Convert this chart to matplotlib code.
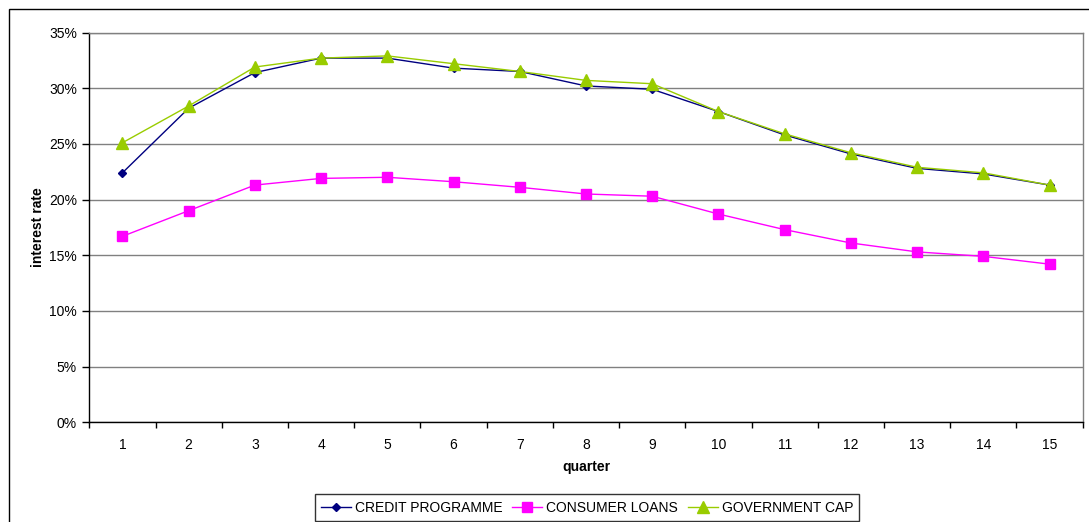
import matplotlib
matplotlib.use("Agg")
import matplotlib.pyplot as plt
from matplotlib.patches import Rectangle
from matplotlib.ticker import FixedLocator, FuncFormatter, NullFormatter

plt.rcParams['font.family'] = ['Liberation Sans', 'DejaVu Sans']

quarters = list(range(1, 16))
credit_programme = [22.4, 28.2, 31.4, 32.7, 32.7, 31.8, 31.5, 30.2, 29.9, 27.9, 25.8, 24.1, 22.8, 22.3, 21.3]
consumer_loans = [16.7, 19.0, 21.3, 21.9, 22.0, 21.6, 21.1, 20.5, 20.3, 18.7, 17.3, 16.1, 15.3, 14.9, 14.2]
government_cap = [25.1, 28.4, 31.9, 32.7, 32.9, 32.2, 31.5, 30.7, 30.4, 27.9, 25.9, 24.2, 22.9, 22.4, 21.3]
y_ticks = [0, 5, 10, 15, 20, 25, 30, 35]

FS = 10
W, H = 1089, 522
fig = plt.figure(figsize=(W / 100, H / 100), dpi=100)

# outer chart frame (left and top edges visible)
fig.patches.append(Rectangle((9 / W, -0.1), 1.2, (H - 9) / H + 0.1,
                             transform=fig.transFigure, fill=False,
                             edgecolor='black', linewidth=1.0))

left, right, top, bottom = 89.3, 1082.7, 32.5, 422.3
ax = fig.add_axes([left / W, 1 - bottom / H, (right - left) / W, (bottom - top) / H])

ax.plot(quarters, credit_programme, color='#000080', marker='D', markersize=4,
        linewidth=1.0, label='CREDIT PROGRAMME', zorder=3)
ax.plot(quarters, consumer_loans, color='#FF00FF', marker='s', markersize=6.5,
        linewidth=1.0, label='CONSUMER LOANS', zorder=3)
ax.plot(quarters, government_cap, color='#99CC00', marker='^', markersize=8,
        linewidth=1.0, label='GOVERNMENT CAP', zorder=4)

ax.set_xlim(0.5, 15.5)
ax.set_ylim(0, 35)
ax.set_yticks(y_ticks)
ax.yaxis.set_major_formatter(FuncFormatter(lambda v, p: f"{int(v)}%"))
ax.yaxis.grid(True, color='#808080', linewidth=1.0)
ax.set_axisbelow(True)

# category labels centred, tick marks on category boundaries
ax.xaxis.set_major_locator(FixedLocator([q - 0.5 for q in quarters] + [15.5]))
ax.xaxis.set_major_formatter(NullFormatter())
ax.xaxis.set_minor_locator(FixedLocator(quarters))
ax.xaxis.set_minor_formatter(FuncFormatter(lambda v, p: f"{int(round(v))}"))
ax.tick_params(axis='x', which='major', length=4, width=1, color='black', direction='out')
ax.tick_params(axis='x', which='minor', length=0, labelsize=FS, pad=11)
ax.tick_params(axis='y', which='major', length=5, width=1, color='black',
               direction='out', labelsize=FS, pad=4)

for s in ['top', 'right']:
    ax.spines[s].set_color('#808080')
    ax.spines[s].set_linewidth(1.0)
for s in ['left', 'bottom']:
    ax.spines[s].set_color('black')
    ax.spines[s].set_linewidth(1.0)

ax.set_xlabel('quarter', fontsize=FS, fontweight='bold', labelpad=6)
ax.set_ylabel('interest rate', fontsize=FS, fontweight='bold', labelpad=3)

leg = fig.legend(loc='center', bbox_to_anchor=(587 / W, 1 - 507.5 / H),
                 ncol=3, fontsize=FS, frameon=True, fancybox=False,
                 edgecolor='black', handlelength=2.15, handletextpad=0.3,
                 columnspacing=0.7, borderpad=0.45, borderaxespad=0)
leg.get_frame().set_linewidth(1.0)

fig.savefig('out.png', dpi=100, facecolor='white')
